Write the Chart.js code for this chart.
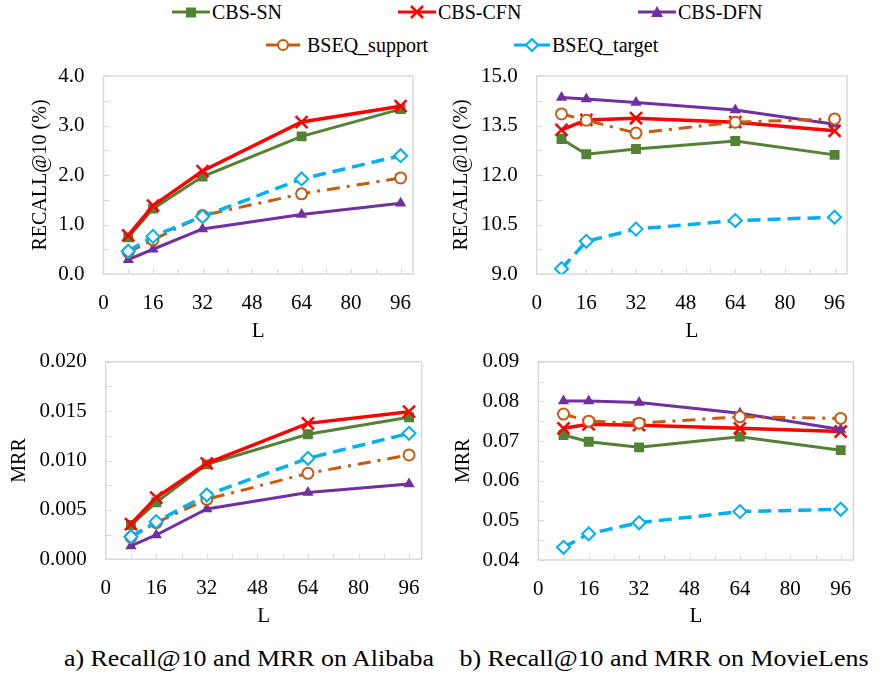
<!DOCTYPE html>
<html>
<head>
<meta charset="utf-8">
<script src="https://cdn.jsdelivr.net/npm/chart.js@4/dist/chart.umd.min.js"></script>
<style>
  html, body { margin: 0; padding: 0; background: #fff; }
  #page { position: relative; width: 882px; height: 677px; overflow: hidden;
          font-family: "Liberation Serif", "DejaVu Serif", serif; color: #000; }
  canvas { position: absolute; }
  .leg { position: absolute; display: flex; align-items: center; font-size: 20px; line-height: 20px; white-space: nowrap; }
  .leg svg { margin-right: 2px; }
  .cap { position: absolute; font-size: 24px; white-space: nowrap; transform: translateX(-50%) scaleX(1.08); }
</style>
</head>
<body>
<div id="page">
  <div class="leg" style="left:172px; top:2px;"><svg width="38" height="16"><line x1="0" y1="8" x2="38" y2="8" stroke="#548235" stroke-width="3"/><rect x="14" y="3.5" width="10" height="10" fill="#548235"/></svg>CBS-SN</div>
  <div class="leg" style="left:398px; top:2px;"><svg width="38" height="16"><line x1="0" y1="8" x2="38" y2="8" stroke="#ff0000" stroke-width="3"/><path d="M13 2 L25 14 M25 2 L13 14" stroke="#ff0000" stroke-width="2.5"/></svg>CBS-CFN</div>
  <div class="leg" style="left:638px; top:2px;"><svg width="38" height="16"><line x1="0" y1="8" x2="38" y2="8" stroke="#7030a0" stroke-width="3"/><polygon points="19,2 25,13 13,13" fill="#7030a0"/></svg>CBS-DFN</div>
  <div class="leg" style="left:266px; top:35px;"><svg width="34" height="16"><line x1="0" y1="8" x2="34" y2="8" stroke="#c55a11" stroke-width="3"/><circle cx="17" cy="8" r="5" fill="#fff" stroke="#c55a11" stroke-width="2"/></svg>&nbsp;BSEQ_support</div>
  <div class="leg" style="left:514px; top:35px;"><svg width="36" height="16"><line x1="0" y1="8" x2="36" y2="8" stroke="#00b0f0" stroke-width="3"/><polygon points="18,2 24,8 18,14 12,8" fill="#fff" stroke="#00b0f0" stroke-width="2"/></svg>BSEQ_target</div>

  <canvas id="tl" width="440" height="290" style="left:0px; top:60px;"></canvas>
  <canvas id="tr" width="442" height="290" style="left:440px; top:60px;"></canvas>
  <canvas id="bl" width="440" height="290" style="left:0px; top:345px;"></canvas>
  <canvas id="br" width="442" height="290" style="left:440px; top:345px;"></canvas>

  <div class="cap" style="left:249px; top:645px;">a) Recall@10 and MRR on Alibaba</div>
  <div class="cap" style="left:664px; top:645px;">b) Recall@10 and MRR on MovieLens</div>
</div>
<script>
// x positions (L) shared by all four panels
const lengths = [8, 16, 32, 64, 96];
const xTickLabels = [0, 16, 32, 48, 64, 80, 96];
const xTickMarks = [8, 16, 24, 32, 40, 48, 56, 64, 72, 80, 88, 96];

// a) Alibaba, Recall@10 (%)
const aliRecallSN = [0.74, 1.32, 1.97, 2.78, 3.33];
const aliRecallCFN = [0.78, 1.38, 2.08, 3.07, 3.39];
const aliRecallDFN = [0.29, 0.50, 0.91, 1.20, 1.43];
const aliRecallSupport = [0.44, 0.69, 1.18, 1.62, 1.94];
const aliRecallTarget = [0.46, 0.76, 1.16, 1.92, 2.39];
const aliRecallTicks = [0, 1, 2, 3, 4];

// a) Alibaba, MRR
const aliMrrSN = [0.00347, 0.00577, 0.00961, 0.01265, 0.01437];
const aliMrrCFN = [0.00357, 0.00624, 0.00971, 0.01376, 0.01494];
const aliMrrDFN = [0.00135, 0.00246, 0.00509, 0.00675, 0.00762];
const aliMrrSupport = [0.00223, 0.00371, 0.00607, 0.00870, 0.01056];
const aliMrrTarget = [0.00229, 0.00381, 0.00651, 0.01022, 0.01275];
const aliMrrTicks = [0, 0.005, 0.01, 0.015, 0.02];

// b) MovieLens, Recall@10 (%)
const movRecallSN = [13.09, 12.63, 12.79, 13.03, 12.61];
const movRecallCFN = [13.37, 13.67, 13.72, 13.60, 13.34];
const movRecallDFN = [14.35, 14.30, 14.20, 13.97, 13.54];
const movRecallSupport = [13.85, 13.66, 13.27, 13.60, 13.70];
const movRecallTarget = [9.16, 9.99, 10.36, 10.62, 10.72];
const movRecallTicks = [9, 10.5, 12, 13.5, 15];

// b) MovieLens, MRR
const movMrrSN = [0.0715, 0.0698, 0.0684, 0.0711, 0.0677];
const movMrrCFN = [0.0732, 0.0742, 0.0740, 0.0732, 0.0724];
const movMrrDFN = [0.0801, 0.0801, 0.0797, 0.0770, 0.0729];
const movMrrSupport = [0.0768, 0.0750, 0.0745, 0.0761, 0.0757];
const movMrrTarget = [0.0432, 0.0466, 0.0494, 0.0522, 0.0528];
const movMrrTicks = [0.04, 0.05, 0.06, 0.07, 0.08, 0.09];

const FONT = '"Liberation Serif", "DejaVu Serif", serif';
Chart.defaults.font.family = FONT;
Chart.defaults.color = '#000';

const pts = (ys) => ys.map((y, i) => ({ x: lengths[i], y }));

function seriesSet(sn, cfn, dfn, support, target) {
    // order: lower value is drawn on top
    return [
        { label: 'CBS-SN', data: pts(sn), order: 4, borderColor: '#548235', backgroundColor: '#548235',
          borderWidth: 3, pointStyle: 'rect', pointRadius: 7, pointBorderWidth: 0 },
        { label: 'CBS-CFN', data: pts(cfn), order: 3, borderColor: '#ff0000', backgroundColor: '#ff0000',
          borderWidth: 3.5, pointStyle: 'crossRot', pointRadius: 8.5, pointBorderWidth: 2.5 },
        { label: 'CBS-DFN', data: pts(dfn), order: 2, borderColor: '#7030a0', backgroundColor: '#7030a0',
          borderWidth: 3, pointStyle: 'triangle', pointRadius: 6.5, pointBorderWidth: 0 },
        { label: 'BSEQ_support', data: pts(support), order: 1, borderColor: '#c55a11', backgroundColor: '#fff',
          borderWidth: 3, borderDash: [13, 7, 3, 7], pointStyle: 'circle', pointRadius: 5.5, pointBorderWidth: 2 },
        { label: 'BSEQ_target', data: pts(target), order: 0, borderColor: '#00b0f0', backgroundColor: '#fff',
          borderWidth: 3.5, borderDash: [13, 7], pointStyle: 'rectRot', pointRadius: 6.5, pointBorderWidth: 2 },
    ];
}

// light grey plot frame + short inward tick marks, like the Excel original
const framePlugin = {
    id: 'frame',
    beforeDatasetsDraw(chart) {
        const { ctx, chartArea: a, scales: { x, y } } = chart;
        ctx.save();
        ctx.strokeStyle = '#d9d9d9';
        ctx.lineWidth = 1.5;
        ctx.strokeRect(a.left, a.top, a.right - a.left, a.bottom - a.top);
        ctx.beginPath();
        xTickMarks.forEach((v) => {
            const px = Math.round(x.getPixelForValue(v)) + 0.5;
            ctx.moveTo(px, a.bottom);
            ctx.lineTo(px, a.bottom - 5);
        });
        const major = y.ticks.map((t) => t.value);
        major.forEach((v, i) => {
            const marks = [v];
            if (i < major.length - 1) marks.push((v + major[i + 1]) / 2);
            marks.forEach((m) => {
                const py = Math.round(y.getPixelForValue(m)) + 0.5;
                ctx.moveTo(a.left, py);
                ctx.lineTo(a.left + 6, py);
            });
        });
        ctx.lineWidth = 1;
        ctx.stroke();
        ctx.restore();
    },
};

function makePanel(id, datasets, yTicks, decimals, yTitle, geo) {
    const canvas = document.getElementById(id);
    return new Chart(canvas, {
        type: 'line',
        data: { datasets },
        plugins: [framePlugin],
        options: {
            responsive: false,
            animation: false,
            devicePixelRatio: 1,
            layout: { padding: { top: geo.top, right: canvas.width - geo.right, left: 0, bottom: 0 } },
            elements: { line: { tension: 0, fill: false } },
            plugins: { legend: { display: false }, tooltip: { enabled: false } },
            scales: {
                x: {
                    type: 'linear',
                    min: 0,
                    max: 100,
                    border: { display: false },
                    grid: { display: false, drawTicks: false },
                    afterBuildTicks: (s) => { s.ticks = xTickLabels.map((v) => ({ value: v })); },
                    afterFit: (s) => {
                        s.height = canvas.height - geo.bottom;
                        s.paddingLeft = 0;
                        s.paddingRight = 0;
                    },
                    ticks: { autoSkip: false, maxRotation: 0, padding: 17, font: { size: 21 },
                             callback: (v) => String(v) },
                    title: { display: true, text: 'L', font: { size: 21 }, padding: { top: 0, bottom: geo.xTitlePad } },
                },
                y: {
                    min: yTicks[0],
                    max: yTicks[yTicks.length - 1],
                    border: { display: false },
                    grid: { display: false, drawTicks: false },
                    afterBuildTicks: (s) => { s.ticks = yTicks.map((v) => ({ value: v })); },
                    afterFit: (s) => {
                        s.width = geo.left;
                        s.paddingTop = 0;
                        s.paddingBottom = 0;
                    },
                    ticks: { autoSkip: false, padding: 19, font: { size: 21 },
                             callback: (v) => Number(v).toFixed(decimals) },
                    title: { display: true, text: yTitle, font: { size: 20 }, padding: { top: geo.yTitlePad, bottom: 0 } },
                },
            },
        },
    });
}

makePanel('tl', seriesSet(aliRecallSN, aliRecallCFN, aliRecallDFN, aliRecallSupport, aliRecallTarget),
    aliRecallTicks, 1, 'RECALL@10 (%)',
    { left: 103.5, top: 16, right: 413, bottom: 214, yTitlePad: 29, xTitlePad: 6 });
makePanel('tr', seriesSet(movRecallSN, movRecallCFN, movRecallDFN, movRecallSupport, movRecallTarget),
    movRecallTicks, 1, 'RECALL@10 (%)',
    { left: 96.7, top: 16, right: 407, bottom: 214, yTitlePad: 10, xTitlePad: 6 });
makePanel('bl', seriesSet(aliMrrSN, aliMrrCFN, aliMrrDFN, aliMrrSupport, aliMrrTarget),
    aliMrrTicks, 3, 'MRR',
    { left: 105.7, top: 16.7, right: 421.7, bottom: 214.3, yTitlePad: 8, xTitlePad: 6 });
makePanel('br', seriesSet(movMrrSN, movMrrCFN, movMrrDFN, movMrrSupport, movMrrTarget),
    movMrrTicks, 2, 'MRR',
    { left: 98.3, top: 16.7, right: 413.3, bottom: 215, yTitlePad: 12, xTitlePad: 6 });
</script>
</body>
</html>
